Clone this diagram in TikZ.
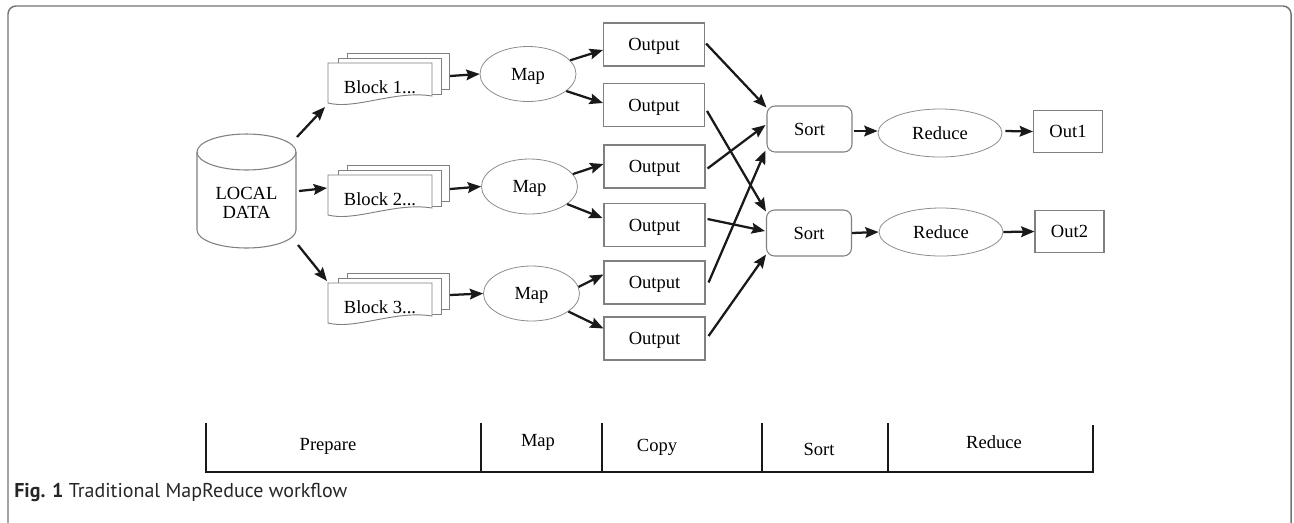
\documentclass[tikz,border=0pt]{standalone}
\usepackage{fontspec}
\setmainfont{Liberation Serif}
\newfontfamily\capfont{PT Sans}
\usetikzlibrary{shapes.geometric,arrows.meta,calc}

% A stack of three sheets; the front one has a wavy lower edge.
\newcommand{\blockstack}[4]{%
  \begin{scope}[shift={(#2,#3)}]
    \draw[sheet] (-33,-34) rectangle (69,2);
    \draw[sheet] (-42,-29) rectangle (61,7);
    \draw[sheet] (-52,-24) -- (52,-24) -- (52,9)
      .. controls (15,3) and (-25,23) .. (-52,16) -- cycle;
  \end{scope}
  \node[lbl, minimum width=104*0.75pt] (#1) at (#2,#3) {#4};
}

\begin{document}
\begin{tikzpicture}[x=0.75pt,y=-0.75pt,
  lbl/.style={font=\fontsize{13.9pt}{14.3pt}\selectfont, text depth=0pt, inner sep=0pt},
  outline/.style={draw=black!50, line width=0.8pt},
  sheet/.style={draw=black!50, line width=0.7pt, fill=white},
  outbox/.style={lbl, outline, rectangle, minimum width=101*0.75pt, minimum height=43*0.75pt},
  endbox/.style={outbox, minimum width=69*0.75pt, minimum height=42*0.75pt},
  sortbox/.style={lbl, outline, rectangle, rounded corners=6pt, minimum width=85*0.75pt, minimum height=46*0.75pt},
  mapell/.style={lbl, ellipse, draw=black!45, line width=0.6pt, minimum width=96*0.75pt, minimum height=55*0.75pt},
  redell/.style={mapell, minimum width=124*0.75pt, minimum height=48*0.75pt},
  flow/.style={line width=1.7pt, draw=black!90, -{Stealth[length=10pt,width=8pt,inset=1.5pt]}},
  scaleline/.style={line width=1.5pt, draw=black!90}]

\useasboundingbox (0,0) rectangle (1294,522);

% outer frame, open at the bottom
\draw[draw=black!55, line width=1.1pt, rounded corners=6pt] (8,530) -- (8,6) -- (1291,6) -- (1291,530);

% local data store
\node[lbl, align=center, minimum width=99*0.75pt] (cyl) at (246.5,202.5) {LOCAL\\DATA};
\begin{scope}[shift={(cyl.center)}]
  \draw[outline] (-49.5,-50.5) -- (-49.5,27.5)
    .. controls (-49.5,37.44) and (-27.34,45.5) .. (0,45.5)
    .. controls (27.34,45.5) and (49.5,37.44) .. (49.5,27.5) -- (49.5,-50.5);
  \draw[outline] (0,-50.5) ellipse [x radius=37.125pt, y radius=13.5pt];
\end{scope}

% input blocks
\blockstack{b1}{380}{87}{Block 1...}
\blockstack{b2}{380}{199}{Block 2...}
\blockstack{b3}{380}{307}{Block 3...}

% map tasks
\node[mapell] (m1) at (528,74) {Map};
\node[mapell] (m2) at (529.5,186.5) {Map};
\node[mapell] (m3) at (531.5,293.5) {Map};

% map outputs
\node[outbox] (o1) at (654,44.5) {Output};
\node[outbox] (o2) at (654,105) {Output};
\node[outbox] (o3) at (654.5,166.5) {Output};
\node[outbox] (o4) at (654.5,225) {Output};
\node[outbox] (o5) at (654.5,282.5) {Output};
\node[outbox] (o6) at (654.5,338.5) {Output};

% sort, reduce and final outputs
\node[sortbox] (s1) at (809.5,129) {Sort};
\node[sortbox] (s2) at (809,233) {Sort};
\node[redell] (r1) at (940,133) {Reduce};
\node[redell] (r2) at (941,232) {Reduce};
\node[endbox] (e1) at (1068,131.5) {Out1};
\node[endbox] (e2) at (1069.5,231.5) {Out2};

% data store to blocks
\draw[flow] ($(cyl.center)+(50.5,-65.5)$) -- ($(b1.center)+(-55,20)$);
\draw[flow] ($(cyl.center)+(52.5,-11.5)$) -- ($(b2.center)+(-53,-11)$);
\draw[flow] ($(cyl.center)+(51.5,42.5)$) -- ($(b3.center)+(-53,-26)$);

% blocks to map tasks
\draw[flow] ($(b1.center)+(70,-11)$) -- (m1.west);
\draw[flow] ($(b2.center)+(70,-10)$) -- (m2.west);
\draw[flow] ($(b3.center)+(70,-12)$) -- (m3.west);

% map tasks to outputs
\draw[flow] (m1.18) -- ($(o1.west)+(0,5.5)$);
\draw[flow] (m1.-24) -- ($(o2.west)+(0,-2)$);
\draw[flow] (m2.16) -- ($(o3.west)+(0,-2.5)$);
\draw[flow] (m2.-25) -- ($(o4.west)+(-1,-7)$);
\draw[flow] (m3.8) -- ($(o5.west)+(0,-8)$);
\draw[flow] (m3.-26) -- ($(o6.west)+(0,-10)$);

% shuffle: outputs copied to sorters
\draw[flow] ($(o1.east)+(1,-1)$) -- ($(s1.north west)+(0,2)$);
\draw[flow] ($(o2.east)+(2,6)$) -- ($(s2.north west)+(0,2)$);
\draw[flow] ($(o3.east)+(2,2)$) -- ($(s1.west)+(-1,-4)$);
\draw[flow] ($(o4.east)+(2,-6)$) -- ($(s2.west)+(-1,-2)$);
\draw[flow] ($(o5.east)+(3,0)$) -- ($(s1.south west)+(-1,-2)$);
\draw[flow] ($(o6.east)+(3,-2.5)$) -- ($(s2.south west)+(0,-2)$);

% sort to reduce to result
\draw[flow] ($(s1.east)+(1,2)$) -- ($(r1.west)+(0,-2)$);
\draw[flow] ($(r1.east)+(3,-2)$) -- (e1.west);
\draw[flow] (s2.east) -- (r2.west);
\draw[flow] (r2.east) -- (e2.west);

% phase scale
\draw[scaleline] (206,423) -- (206,472) -- (1093,472) -- (1093,425);
\foreach \x in {481,602,762,888} \draw[scaleline] (\x,423) -- (\x,472);
\node[lbl] (pPrep) at (328,444) {Prepare};
\node[lbl] (pMap) at (538,440) {Map};
\node[lbl] (pCopy) at (657,445) {Copy};
\node[lbl] (pSort) at (819,449) {Sort};
\node[lbl] (pRed) at (994,442) {Reduce};

% caption
\node[anchor=base west, inner sep=0pt, font=\capfont\fontsize{15pt}{18pt}\selectfont, text=black!85] (cap) at (14,497) {\textbf{Fig. 1} Traditional MapReduce workflow};
\end{tikzpicture}
\end{document}
